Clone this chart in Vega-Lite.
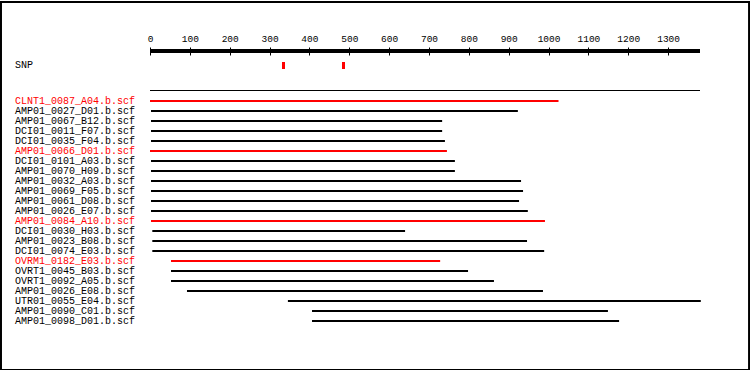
{
  "$schema": "https://vega.github.io/schema/vega-lite/v6.json",
  "width": 550,
  "height": 290,
  "autosize": {"type": "none"},
  "padding": {"left": 150, "top": 51, "right": 50, "bottom": 29},
  "background": "#ffffff",
  "config": {"view": {"stroke": null}},
  "data": {"values": [
    {"name": "CLNT1_0087_A04.b.scf", "row": 1, "start": 0, "end": 1025, "hl": true},
    {"name": "AMP01_0027_D01.b.scf", "row": 2, "start": 2.5, "end": 923, "hl": false},
    {"name": "AMP01_0067_B12.b.scf", "row": 3, "start": 2.5, "end": 733, "hl": false},
    {"name": "DCI01_0011_F07.b.scf", "row": 4, "start": 2.5, "end": 733, "hl": false},
    {"name": "DCI01_0035_F04.b.scf", "row": 5, "start": 2.5, "end": 740, "hl": false},
    {"name": "AMP01_0066_D01.b.scf", "row": 6, "start": 0, "end": 745, "hl": true},
    {"name": "DCI01_0101_A03.b.scf", "row": 7, "start": 2.5, "end": 765, "hl": false},
    {"name": "AMP01_0070_H09.b.scf", "row": 8, "start": 2.5, "end": 765, "hl": false},
    {"name": "AMP01_0032_A03.b.scf", "row": 9, "start": 2.5, "end": 931, "hl": false},
    {"name": "AMP01_0069_F05.b.scf", "row": 10, "start": 2.5, "end": 936, "hl": false},
    {"name": "AMP01_0061_D08.b.scf", "row": 11, "start": 2.5, "end": 926, "hl": false},
    {"name": "AMP01_0026_E07.b.scf", "row": 12, "start": 2.5, "end": 948, "hl": false},
    {"name": "AMP01_0084_A10.b.scf", "row": 13, "start": 2.5, "end": 991, "hl": true},
    {"name": "DCI01_0030_H03.b.scf", "row": 14, "start": 5.8, "end": 640, "hl": false},
    {"name": "AMP01_0023_B08.b.scf", "row": 15, "start": 5.8, "end": 946, "hl": false},
    {"name": "DCI01_0074_E03.b.scf", "row": 16, "start": 5.8, "end": 989, "hl": false},
    {"name": "OVRM1_0182_E03.b.scf", "row": 17, "start": 52.7, "end": 728, "hl": true},
    {"name": "OVRT1_0045_B03.b.scf", "row": 18, "start": 52.7, "end": 798, "hl": false},
    {"name": "OVRT1_0092_A05.b.scf", "row": 19, "start": 52.7, "end": 863, "hl": false},
    {"name": "AMP01_0026_E08.b.scf", "row": 20, "start": 92.8, "end": 986, "hl": false},
    {"name": "UTR01_0055_E04.b.scf", "row": 21, "start": 346, "end": 1382, "hl": false},
    {"name": "AMP01_0090_C01.b.scf", "row": 22, "start": 406.5, "end": 1149, "hl": false},
    {"name": "AMP01_0098_D01.b.scf", "row": 23, "start": 406.5, "end": 1177, "hl": false}
  ]},
  "resolve": {"scale": {"x": "shared", "y": "shared"}},
  "layer": [
    {
      "data": {"values": [{"k": "frame"}]},
      "mark": {"type": "rect", "fill": null, "fillOpacity": 0, "stroke": "#000000", "strokeWidth": 2},
      "encoding": {
        "x": {
          "datum": -373.9, "type": "quantitative",
          "scale": {"domain": [0, 1380], "nice": false, "zero": false},
          "axis": {
            "orient": "top", "title": null, "offset": -4, "domain": false, "grid": false,
            "values": [0, 100, 200, 300, 400, 500, 600, 700, 800, 900, 1000, 1100, 1200, 1300],
            "format": "d",
            "tickSize": 8, "tickWidth": 1, "tickColor": "#000000",
            "labelPadding": 4, "labelFont": "Liberation Mono", "labelFontSize": 9.5,
            "labelColor": "#000000", "labelFlush": false, "labelOverlap": false
          }
        },
        "x2": {"datum": 1503.1},
        "y": {"datum": -8.9, "type": "quantitative", "scale": {"domain": [-4, 25], "nice": false, "zero": false, "reverse": true}, "axis": null},
        "y2": {"datum": 27.9}
      }
    },
    {
      "data": {"values": [{"k": "ruler"}]},
      "mark": {"type": "rule", "color": "#000000", "strokeWidth": 4, "strokeCap": "butt"},
      "encoding": {
        "x": {"datum": 0, "type": "quantitative", "title": null},
        "x2": {"datum": 1380},
        "y": {"datum": -4, "type": "quantitative"}
      }
    },
    {
      "data": {"values": [{"k": "sep"}]},
      "mark": {"type": "rule", "color": "#000000", "strokeWidth": 1, "strokeCap": "butt"},
      "encoding": {
        "x": {"datum": 0, "type": "quantitative", "title": null},
        "x2": {"datum": 1380},
        "y": {"datum": -0.05, "type": "quantitative"}
      }
    },
    {
      "data": {"values": [{"label": "SNP"}]},
      "mark": {"type": "text", "align": "left", "baseline": "middle", "font": "Liberation Mono", "fontSize": 10, "color": "#000000"},
      "encoding": {
        "x": {"datum": -338.7, "type": "quantitative", "title": null},
        "y": {"datum": -2.6, "type": "quantitative"},
        "text": {"field": "label"}
      }
    },
    {
      "data": {"values": [{"pos": 335}, {"pos": 485.5}]},
      "mark": {"type": "rule", "color": "#ff0000", "strokeWidth": 3, "strokeCap": "butt"},
      "encoding": {
        "x": {"field": "pos", "type": "quantitative", "title": null},
        "y": {"datum": -2.9, "type": "quantitative"},
        "y2": {"datum": -2.2}
      }
    },
    {
      "mark": {"type": "rule", "strokeWidth": 2, "strokeCap": "butt"},
      "encoding": {
        "x": {"field": "start", "type": "quantitative", "title": null},
        "x2": {"field": "end"},
        "y": {"field": "row", "type": "quantitative"},
        "color": {"condition": {"test": "datum.hl", "value": "#ff0000"}, "value": "#000000"}
      }
    },
    {
      "mark": {"type": "text", "align": "left", "baseline": "middle", "font": "Liberation Mono", "fontSize": 10},
      "encoding": {
        "x": {"datum": -338.7, "type": "quantitative", "title": null},
        "y": {"field": "row", "type": "quantitative"},
        "text": {"field": "name"},
        "color": {"condition": {"test": "datum.hl", "value": "#ff0000"}, "value": "#000000"}
      }
    }
  ]
}
